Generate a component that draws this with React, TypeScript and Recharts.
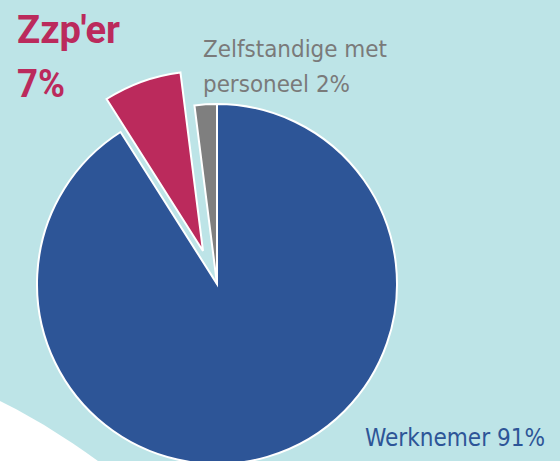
import { Cell, Pie, PieChart } from "recharts";

const categories = ["Werknemer", "Zzp'er", "Zelfstandige met personeel"];
const shares = [91, 7, 2];
const colors = ["#2d5597", "#bb2a5c", "#7f7f7f"];
const explodedIndex = 1;

const data = categories.map((name, i) => ({ name, value: shares[i] }));

const W = 560;
const H = 461;
const CX = 217;
const CY = 284;
const R = 180;
// red slice pulled out along its mid angle
const OFFSET = { x: -14, y: -33 };

const font = "'DejaVu Sans Condensed', 'DejaVu Sans', sans-serif";
const boldFont = "Roboto, 'DejaVu Sans', sans-serif";

export default function App() {
  return (
    <div style={{ position: "absolute", left: 0, top: 0, width: W, height: H, overflow: "hidden", background: "#bde4e7" }}>
      <svg width={W} height={H} style={{ position: "absolute", left: 0, top: 0 }}>
        <circle cx={-300} cy={1000} r={670} fill="#ffffff" />
      </svg>
      <div style={{ position: "absolute", left: 0, top: 0 }}>
        <PieChart width={W} height={H} margin={{ top: 0, right: 0, bottom: 0, left: 0 }}>
          <Pie
            data={data}
            dataKey="value"
            nameKey="name"
            cx={CX}
            cy={CY}
            outerRadius={R}
            startAngle={90}
            endAngle={-270}
            stroke="#ffffff"
            strokeWidth={2}
            isAnimationActive={false}
          >
            {data.map((d, i) => (
              <Cell
                key={d.name}
                fill={i === explodedIndex ? "none" : colors[i]}
                stroke={i === explodedIndex ? "none" : "#ffffff"}
              />
            ))}
          </Pie>
          <Pie
            data={data}
            dataKey="value"
            nameKey="name"
            cx={CX + OFFSET.x}
            cy={CY + OFFSET.y}
            outerRadius={R}
            startAngle={90}
            endAngle={-270}
            stroke="#ffffff"
            strokeWidth={2}
            isAnimationActive={false}
          >
            {data.map((d, i) => (
              <Cell
                key={d.name}
                fill={i === explodedIndex ? colors[i] : "none"}
                stroke={i === explodedIndex ? "#ffffff" : "none"}
              />
            ))}
          </Pie>
        </PieChart>
      </div>
      <svg width={W} height={H} style={{ position: "absolute", left: 0, top: 0, pointerEvents: "none" }}>
        <text x={17} y={43} fill={colors[1]} fontFamily={boldFont} fontWeight="bold" fontSize={38} textLength={103} lengthAdjust="spacingAndGlyphs">
          {categories[1]}
        </text>
        <text x={17} y={97} fill={colors[1]} fontFamily={boldFont} fontWeight="bold" fontSize={38} textLength={48} lengthAdjust="spacingAndGlyphs">
          {shares[1]}%
        </text>
        <text x={203} y={57} fill="#7a7a7a" fontFamily={font} fontSize={23} textLength={184} lengthAdjust="spacingAndGlyphs">
          Zelfstandige met
        </text>
        <text x={203} y={92} fill="#7a7a7a" fontFamily={font} fontSize={23} textLength={147} lengthAdjust="spacingAndGlyphs">
          personeel {shares[2]}%
        </text>
        <text x={365} y={446} fill={colors[0]} fontFamily={font} fontSize={24} textLength={180} lengthAdjust="spacingAndGlyphs">
          {categories[0]} {shares[0]}%
        </text>
      </svg>
    </div>
  );
}
